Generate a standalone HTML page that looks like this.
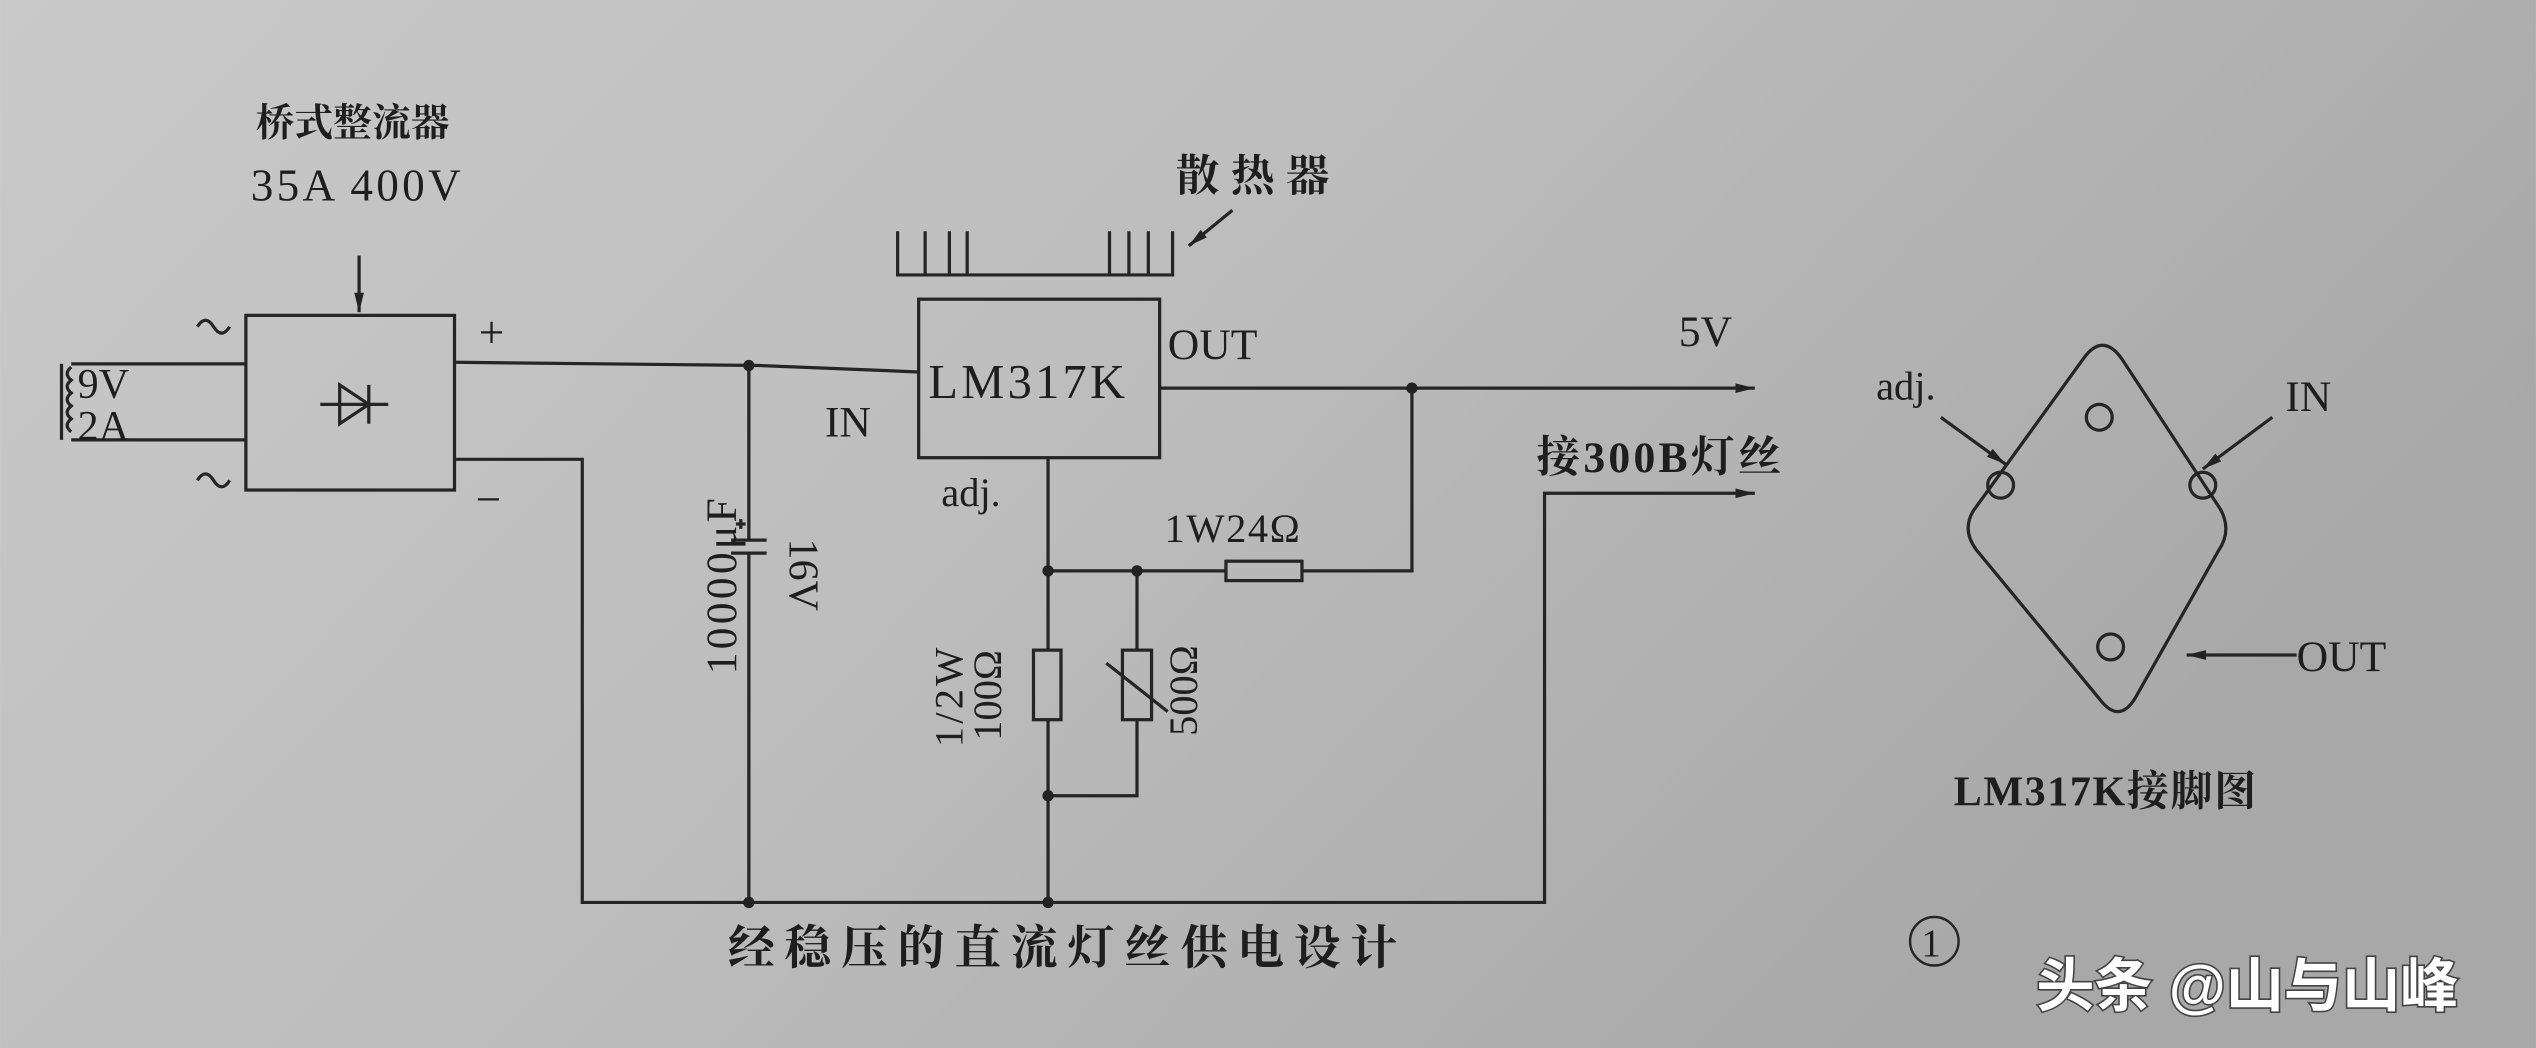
<!DOCTYPE html>
<html><head><meta charset="utf-8"><style>
html,body{margin:0;padding:0;}
body{width:2536px;height:1048px;overflow:hidden;}
svg{display:block}
text{font-family:"Liberation Serif","Noto Serif CJK SC",serif;fill:#1e1e1e;}
.c{font-family:"Liberation Serif","Noto Serif CJK SC",serif;font-weight:bold;}
</style></head><body>
<svg width="2536" height="1048" viewBox="0 0 1568 648" xmlns="http://www.w3.org/2000/svg">
<defs>
<linearGradient id="bg" x1="0" y1="0" x2="1" y2="0.4">
<stop offset="0" stop-color="#c9c9c9"/><stop offset="0.5" stop-color="#bdbdbd"/><stop offset="1" stop-color="#a8a8a8"/>
</linearGradient>
<marker id="ar" markerWidth="12" markerHeight="8" refX="12" refY="4" orient="auto" markerUnits="userSpaceOnUse"><path d="M0,1 L12,4 L0,7 Z" fill="#222"/></marker>
</defs>
<rect width="1568" height="648" fill="url(#bg)"/>
<g stroke="#252525" stroke-width="2" fill="none">
<path d="M38,225 V272"/>
<path d="M44,227 q-5,4 0,8 q-5,4 0,8 q-5,4 0,8 q-5,4 0,8 q-5,4 0,8"/>
<path d="M44,225 H152 M44,272 H152"/>
<rect x="152" y="195" width="129" height="108"/>
<path d="M222,158 V193" marker-end="url(#ar)"/>
<path d="M198,250 H240 M210,238 V262 L228,250 Z M228,238 V262"/>
<path d="M122,202 q5,-8 10,0 t10,0 M122,297 q5,-8 10,0 t10,0"/>
<path d="M281,224 L470,226 L568,230"/>
<path d="M281,284 H360 V558 H955 V305 H1085" marker-end="url(#ar)"/>
<path d="M463,226 V334 M452,334 H474 M452,342 H474 M463,342 V558"/>
<path d="M455,324 h6 M458,321 v6"/>
<rect x="568" y="185" width="149" height="98"/>
<path d="M555,143 V170 H725 V143 M572,143 V170 M587,143 V170 M598,143 V170 M686,143 V170 M698,143 V170 M710,143 V170"/>
<path d="M762,130 L735,152" marker-end="url(#ar)"/>
<path d="M717,240 H1085" marker-end="url(#ar)"/>
<path d="M873,240 V353 H805 M758,353 H648"/>
<rect x="758" y="347" width="47" height="12"/>
<path d="M648,283 V402 M648,445 V558"/>
<rect x="639" y="402" width="17" height="43"/>
<path d="M703,353 V402 M703,445 V492 H648"/>
<rect x="694" y="402" width="18" height="43"/>
<path d="M684,410 L722,440"/>
<path d="M1288,222 Q1300,205 1312,222 L1373,315 Q1380,328 1372,340 L1320,432 Q1310,448 1298,432 L1222,340 Q1213,328 1220,316 Z"/>
<circle cx="1298" cy="258" r="8"/><circle cx="1237" cy="300" r="8"/><circle cx="1362" cy="300" r="8"/><circle cx="1305" cy="400" r="8"/>
<path d="M1200,258 L1240,287" marker-end="url(#ar)"/>
<path d="M1405,258 L1362,290" marker-end="url(#ar)"/>
<path d="M1420,405 H1352" marker-end="url(#ar)"/>
<circle cx="1196" cy="582" r="15" stroke-width="1.5"/>
</g>
<g fill="#222">
<circle cx="463" cy="226" r="3.5"/><circle cx="463" cy="558" r="3.5"/><circle cx="648" cy="558" r="3.5"/>
<circle cx="873" cy="240" r="3.5"/><circle cx="648" cy="353" r="3.5"/><circle cx="703" cy="353" r="3.5"/><circle cx="648" cy="492" r="3.5"/>
</g>
<text class="c" x="158" y="84" font-size="24">桥式整流器</text>
<text x="155" y="124" font-size="28" letter-spacing="2">35A  400V</text>
<text x="48" y="246" font-size="26">9V</text>
<text x="48" y="272" font-size="26">2A</text>
<text x="296" y="215" font-size="28">+</text>
<text x="294" y="318" font-size="28">−</text>
<text x="510" y="270" font-size="27">IN</text>
<text x="574" y="246" font-size="30" letter-spacing="2">LM317K</text>
<text x="722" y="222" font-size="27">OUT</text>
<text class="c" x="727" y="118" font-size="27" letter-spacing="7">散热器</text>
<text x="1038" y="214" font-size="27">5V</text>
<text class="c" x="950" y="292" font-size="27" letter-spacing="2">接300B灯丝</text>
<text x="582" y="313" font-size="25">adj.</text>
<text x="720" y="335" font-size="25" letter-spacing="1">1W24Ω</text>
<text x="0" y="0" font-size="27" letter-spacing="2" transform="translate(455,417) rotate(-90)">10000μF</text>
<text x="0" y="0" font-size="26" transform="translate(488,333) rotate(90)">16V</text>
<text x="0" y="0" font-size="25" letter-spacing="2" transform="translate(595,462) rotate(-90)">1/2W</text>
<text x="0" y="0" font-size="25" transform="translate(619,458) rotate(-90)">100Ω</text>
<text x="0" y="0" font-size="25" transform="translate(740,455) rotate(-90)">500Ω</text>
<text class="c" x="450" y="596" font-size="29" letter-spacing="6">经稳压的直流灯丝供电设计</text>
<text x="1160" y="247" font-size="25">adj.</text>
<text x="1413" y="254" font-size="27">IN</text>
<text x="1420" y="415" font-size="27">OUT</text>
<text class="c" x="1208" y="498" font-size="26" letter-spacing="1">LM317K接脚图</text>
<text x="1188" y="591" font-size="24">1</text>
<text x="1259" y="622" font-size="36" font-weight="bold" style="fill:#fff;paint-order:stroke;font-family:'Liberation Sans','Noto Sans CJK SC',sans-serif" stroke="#444" stroke-width="2">头条 @山与山峰</text>
</svg>
</body></html>
